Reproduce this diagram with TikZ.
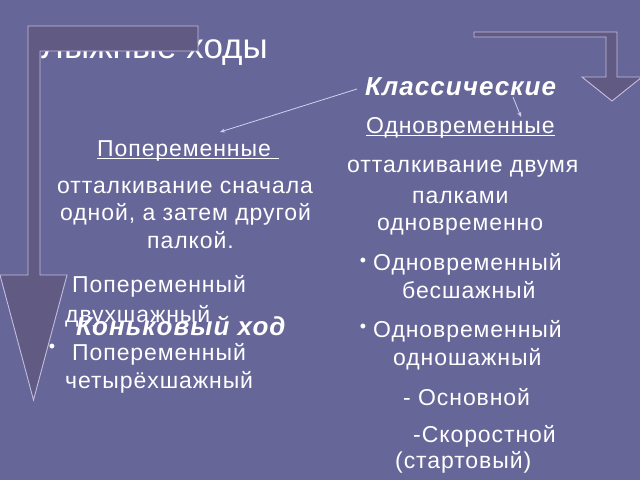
\documentclass[tikz,border=0pt]{standalone}
\usepackage{fontspec}
\setmainfont{Liberation Sans}[LetterSpace=4]
\newfontfamily\titlefont{Liberation Sans}
\usetikzlibrary{arrows.meta}
\definecolor{bg}{HTML}{666699}
\definecolor{arrowfill}{HTML}{615A82}
\definecolor{arrowline}{HTML}{C4BCE0}
\definecolor{conn}{HTML}{D4D0F0}
\begin{document}
\begin{tikzpicture}[x=1pt,y=-1pt,
  txt/.style={text=white,inner sep=0pt,anchor=base west,font=\fontsize{23}{27}\selectfont},
  hdr/.style={text=white,inner sep=0pt,anchor=base west,font=\fontsize{26}{30}\selectfont\bfseries\itshape},
  bul/.style={text=white,inner sep=0pt,anchor=center,font=\fontsize{18}{18}\selectfont},
  bigarrow/.style={fill=arrowfill,draw=arrowline,line width=0.9pt,line join=miter},
  connector/.style={draw=conn,line width=0.8pt,-{Stealth[length=5pt,width=4pt]}}]
\useasboundingbox (0,0) rectangle (640,480);
\fill[bg] (0,0) rectangle (640,480);
% title (partly hidden by arrow)
\begin{scope}
\clip (28,0) rectangle (640,100);
\node[text=white,inner sep=0pt,anchor=base east,font=\titlefont\fontsize{35}{40}\selectfont] (title) at (268,58) {Лыжные ходы};
\end{scope}
% left block
\node[txt] (pop) at (97,156) {Попеременные};
\draw[white,line width=0.8pt] ([yshift=-2pt]pop.base west) -- ([yshift=-2pt,xshift=8pt]pop.base east);
\node[txt] (l1) at (57,193) {отталкивание сначала};
\node[txt] (l2) at (60,220) {одной, а затем другой};
\node[txt] (l3) at (147,248) {палкой.};
\node[txt] (l4) at (72,292) {Попеременный};
\node[txt] (l5) at (65,322) {двухшажный};
\node[bul] (b3) at (52,348) {•};
\node[txt] (l6) at (72,360) {Попеременный};
\node[txt] (l7) at (65,388) {четырёхшажный};
% right block
\node[txt] (odn) at (366,133) {Одновременные};
\draw[white,line width=0.8pt] ([yshift=-2pt]odn.base west) -- ([yshift=-2pt]odn.base east);
\node[txt] (r1) at (347,172) {отталкивание двумя};
\node[txt] (r2) at (412,203) {палками};
\node[txt] (r3) at (377,230) {одновременно};
\node[bul] (b1) at (363,262) {•};
\node[txt] (r4) at (373,270) {Одновременный};
\node[txt] (r5) at (402,298) {бесшажный};
\node[bul] (b2) at (363,328) {•};
\node[txt] (r6) at (373,337) {Одновременный};
\node[txt] (r7) at (393,365) {одношажный};
\node[txt] (r8) at (403,405) {- Основной};
\node[txt] (r9) at (413,442) {-Скоростной};
\node[txt] (r10) at (395,468) {(стартовый)};
% headers
\node[hdr] (klass) at (365,95) {Классические};
\node[hdr] (konk) at (76,335) {Коньковый ход};
% connectors
\coordinate (k1) at (357,89);
\coordinate (p1) at (220,132);
\coordinate (k2) at (513,97);
\coordinate (o1) at (521,117);
\draw[connector] (k1) -- (p1);
\draw[connector] (k2) -- (o1);
% bent arrows
\draw[bigarrow] (28,26) -- (198,26) -- (198,51) -- (40,51) -- (40,275) -- (67,275) -- (33.5,400) -- (0,275) -- (28,275) -- cycle;
\draw[bigarrow] (474,32) -- (617,32) -- (617,77) -- (642,77) -- (612,101) -- (582,77) -- (606,77) -- (606,37) -- (474,37) -- cycle;
\end{tikzpicture}
\end{document}
